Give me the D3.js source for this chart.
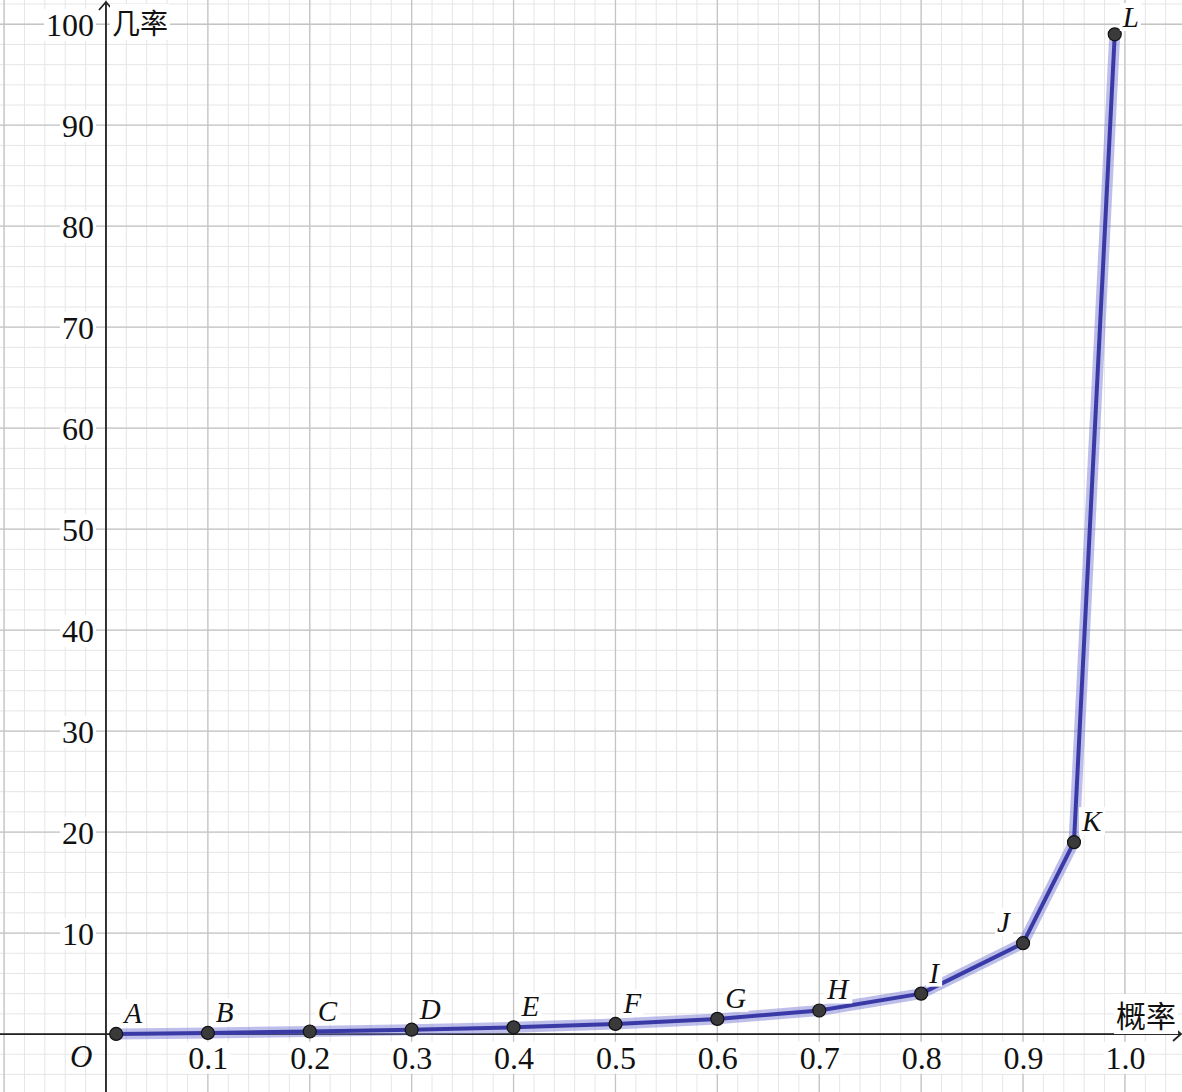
<!DOCTYPE html>
<html><head><meta charset="utf-8">
<script src="https://cdn.jsdelivr.net/npm/d3@7"></script>
<style>body{margin:0;background:#fff}svg{display:block}</style>
</head><body>
<script>
const names = ["A","B","C","D","E","F","G","H","I","J","K","L"];
const probs = [0.01,0.1,0.2,0.3,0.4,0.5,0.6,0.7,0.8,0.9,0.95,0.99];
const odds  = [0.0101,0.111,0.25,0.429,0.667,1,1.5,2.333,4,9,19,99];
const labelSide = ["r","r","r","r","r","r","r","r","r","l","r","r"];
const xTicks = [0.1,0.2,0.3,0.4,0.5,0.6,0.7,0.8,0.9,1.0];
const yTicks = [10,20,30,40,50,60,70,80,90,100];
const xTitle = "概率", yTitle = "几率", originLabel = "O";

const W = 1182, H = 1092;
const x = d3.scaleLinear().domain([-0.104, 1.056]).range([0, W]);
const y = d3.scaleLinear().domain([-5.74, 102.4]).range([H, 0]);

const svg = d3.select("body").append("svg").attr("width", W).attr("height", H);

// minor grid
const minorX = d3.range(-5, 53).map(i => i * 0.02);
const minorY = d3.range(-2, 52).map(i => i * 2);
const g = svg.append("g");
g.selectAll(".mx").data(minorX).join("line")
  .attr("x1", d => x(d)).attr("x2", d => x(d)).attr("y1", 0).attr("y2", H)
  .attr("stroke", "#e6e6e6").attr("stroke-width", 1);
g.selectAll(".my").data(minorY).join("line")
  .attr("y1", d => y(d)).attr("y2", d => y(d)).attr("x1", 0).attr("x2", W)
  .attr("stroke", "#e6e6e6").attr("stroke-width", 1);
// major grid
const majorX = d3.range(-1, 11).map(i => i * 0.1);
const majorY = d3.range(0, 11).map(i => i * 10);
g.selectAll(".Mx").data(majorX).join("line")
  .attr("x1", d => x(d)).attr("x2", d => x(d)).attr("y1", 0).attr("y2", H)
  .attr("stroke", "#c4c4c4").attr("stroke-width", 1.3);
g.selectAll(".My").data(majorY).join("line")
  .attr("y1", d => y(d)).attr("y2", d => y(d)).attr("x1", 0).attr("x2", W)
  .attr("stroke", "#c4c4c4").attr("stroke-width", 1.3);

// axes lines with arrows
const ax = svg.append("g").attr("stroke", "#222").attr("stroke-width", 1.8).attr("fill", "none");
ax.append("line").attr("x1", 0).attr("x2", W - 1).attr("y1", y(0)).attr("y2", y(0));
ax.append("path").attr("d", `M${W-9},${y(0)-7} L${W-1},${y(0)} L${W-9},${y(0)+7}`);
ax.append("line").attr("x1", x(0)).attr("x2", x(0)).attr("y1", H).attr("y2", 2);
ax.append("path").attr("d", `M${x(0)-7},10 L${x(0)},2 L${x(0)+7},10`);

function addBg(sel) {
  sel.each(function() {
    const b = this.getBBox();
    d3.select(this.parentNode).insert("rect", () => this)
      .attr("x", b.x - 2).attr("y", b.y + 2).attr("width", b.width + 4).attr("height", b.height - 4)
      .attr("fill", "#fff");
  });
}

const fontSerif = "'Liberation Serif','Times New Roman',serif";
// x tick labels
const xAxis = svg.append("g").attr("transform", `translate(0,${y(0)})`)
  .call(d3.axisBottom(x).tickValues(xTicks).tickFormat(d3.format(".1f")).tickSize(0).tickPadding(12));
xAxis.select(".domain").remove();
xAxis.selectAll("text").attr("font-family", fontSerif).attr("font-size", 32).attr("fill", "#111");
addBg(xAxis.selectAll("text"));

const yAxis = svg.append("g").attr("transform", `translate(${x(0) - 12},0)`)
  .call(d3.axisLeft(y).tickValues(yTicks).tickFormat(d3.format("d")).tickSize(0).tickPadding(0));
yAxis.select(".domain").remove();
yAxis.selectAll("text").attr("font-family", fontSerif).attr("font-size", 32).attr("fill", "#111").attr("dy", "0.35em");
addBg(yAxis.selectAll("text"));

// axis titles
const t1 = svg.append("g");
t1.append("text").attr("x", x(0) + 6).attr("y", 34).text(yTitle)
  .attr("font-family", "'Noto Sans CJK SC',sans-serif").attr("font-size", 28).attr("fill", "#111");
t1.append("text").attr("x", W - 6).attr("y", y(0) - 7).attr("text-anchor", "end").text(xTitle)
  .attr("font-family", "'Noto Sans CJK SC',sans-serif").attr("font-size", 30).attr("fill", "#111");
addBg(t1.selectAll("text"));
svg.append("text").attr("x", x(0) - 36).attr("y", y(0) + 33).text(originLabel)
  .attr("font-family", fontSerif).attr("font-style", "italic").attr("font-size", 31).attr("fill", "#111");

// line
const pts = probs.map((p, i) => ({p, o: odds[i], n: names[i], s: labelSide[i]}));
const line = d3.line().x(d => x(d.p)).y(d => y(d.o));
svg.append("path").datum(pts).attr("d", line).attr("fill", "none")
  .attr("stroke", "rgba(110,110,210,0.45)").attr("stroke-width", 11).attr("stroke-linejoin", "round");
svg.append("path").datum(pts).attr("d", line).attr("fill", "none")
  .attr("stroke", "#3a3aa6").attr("stroke-width", 4).attr("stroke-linejoin", "round");

// points
svg.selectAll(".pt").data(pts).join("circle")
  .attr("cx", d => x(d.p)).attr("cy", d => y(d.o)).attr("r", 6.5)
  .attr("fill", "#3a3a3a").attr("stroke", "#111").attr("stroke-width", 1.2);

// point labels
const lab = svg.append("g");
lab.selectAll("text").data(pts).join("text")
  .attr("x", d => x(d.p) + (d.s === "l" ? -26 : 8))
  .attr("y", d => Math.max(y(d.o) - 11, 27))
  .text(d => d.n)
  .attr("font-family", fontSerif).attr("font-style", "italic").attr("font-size", 29).attr("fill", "#111");
addBg(lab.selectAll("text"));
</script>
</body></html>
